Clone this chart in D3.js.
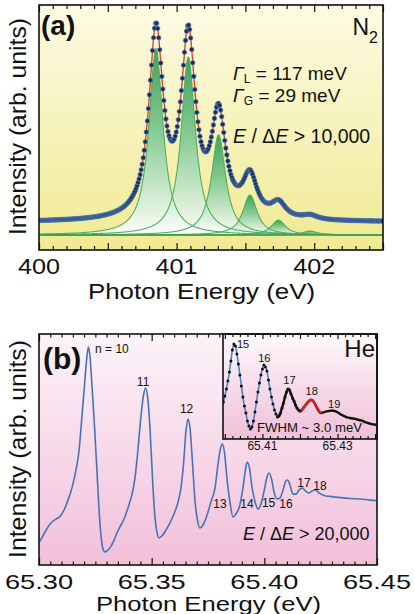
<!DOCTYPE html>
<html><head><meta charset="utf-8">
<script src="https://cdn.jsdelivr.net/npm/d3@7"></script>
<style>
html,body{margin:0;padding:0;background:#fff;}
svg{display:block;font-family:"Liberation Sans",Arial,Helvetica,sans-serif;}
</style></head><body>
<svg id="c" width="415" height="614"></svg>
<script>
// ---------- Panel (a): N2 1s -> pi* (Voigt fit components) ----------
const n2Centers = [400.85, 401.085, 401.305, 401.533, 401.74, 401.97];
const n2Heights = [0.875, 0.835, 0.47, 0.188, 0.07, 0.019];
const n2GammaL = 0.117;   // eV (Lorentzian FWHM, from annotation)
const n2GammaG = 0.029;   // eV (Gaussian FWHM, from annotation)
const n2Background = 0.06;
const n2Step = 0.0075;    // measurement step (eV)
const aTickLabels = [400, 401, 402];

// ---------- Panel (b): He double excitation series ----------
const heEnergy = [65.3004,65.3022,65.3040,65.3058,65.3075,65.3093,65.3111,65.3124,65.3138,65.3151,65.3164,65.3178,65.3191,65.3202,65.3211,65.3219,65.3226,65.3235,65.3246,65.3257,65.3266,65.3275,65.3284,65.3293,65.3306,65.3320,65.3333,65.3346,65.3359,65.3373,65.3386,65.3399,65.3413,65.3426,65.3439,65.3453,65.3464,65.3473,65.3482,65.3493,65.3504,65.3515,65.3524,65.3533,65.3546,65.3564,65.3581,65.3599,65.3617,65.3630,65.3641,65.3652,65.3661,65.3670,65.3681,65.3692,65.3703,65.3714,65.3728,65.3746,65.3763,65.3781,65.3794,65.3805,65.3813,65.3823,65.3834,65.3848,65.3861,65.3874,65.3890,65.3905,65.3916,65.3924,65.3934,65.3945,65.3959,65.3972,65.3985,65.3999,65.4012,65.4021,65.4032,65.4043,65.4056,65.4070,65.4083,65.4096,65.4103,65.4114,65.4127,65.4141,65.4154,65.4169,65.4183,65.4196,65.4212,65.4225,65.4243,65.4265,65.4291,65.4336,65.4380,65.4425,65.4469,65.4498];
const heIntensity = [0.102,0.134,0.165,0.186,0.199,0.210,0.238,0.268,0.307,0.351,
0.411,0.498,0.649,0.779,0.887,0.944,0.905,0.779,0.606,0.411,
0.247,0.130,0.069,0.056,0.065,0.082,0.108,0.139,0.165,0.190,
0.221,0.260,0.307,0.377,0.498,0.649,0.736,0.766,0.727,0.584,
0.368,0.203,0.139,0.117,0.126,0.152,0.182,0.221,0.273,0.333,
0.433,0.576,0.632,0.593,0.446,0.281,0.195,0.160,0.173,0.216,
0.273,0.333,0.433,0.502,0.524,0.489,0.377,0.268,0.208,0.221,
0.255,0.333,0.411,0.446,0.420,0.338,0.273,0.242,0.264,0.320,
0.381,0.398,0.372,0.316,0.286,0.290,0.325,0.364,0.368,0.346,
0.307,0.307,0.325,0.333,0.320,0.312,0.320,0.325,0.312,0.301,
0.297,0.292,0.288,0.286,0.281,0.279];
const heLabelText = ["n = 10","11","12","13","14","15","16","17","18"];
const heLabelE = [65.3249,65.3462,65.3655,65.3803,65.3923,65.4019,65.4096,65.4176,65.4247];
const heLabelI = [0.918,0.775,0.658,0.247,0.247,0.251,0.247,0.338,0.325];
const bTickLabels = ["65.30","65.35","65.40","65.45"];
const bTickValues = [65.30,65.35,65.40,65.45];

// inset (high-resolution scan)
const insetEnergy = [65.3996,65.4000,65.4004,65.4008,65.4012,65.4016,65.4020,65.4024,65.4028,65.4032,65.4036,65.4040,65.4044,65.4048,65.4052,65.4056,65.4060,65.4064,65.4068,65.4072,65.4076,65.4080,65.4084,65.4088,65.4092,65.4096,65.4100,65.4104,65.4108,65.4112,65.4116,65.4120,65.4124,65.4128,65.4132,65.4136,65.4140,65.4144,65.4148,65.4152,65.4156,65.4160,65.4164,65.4168,65.4172,65.4176,65.4180,65.4184,65.4188,65.4192,65.4196,65.4200,65.4204,65.4208,65.4212,65.4216,65.4220,65.4224,65.4228,65.4232,65.4236,65.4240,65.4244,65.4248,65.4252,65.4256,65.4261,65.4269,65.4277,65.4285,65.4293,65.4301,65.4309,65.4317,65.4325,65.4333,65.4341,65.4349,65.4357,65.4365,65.4373,65.4381,65.4389,65.4397,65.4405];
const insetIntensity = [0.349,0.406,0.472,0.547,0.632,0.736,0.840,0.896,0.877,0.802,
0.708,0.604,0.500,0.396,0.311,0.245,0.170,0.123,0.094,0.113,
0.170,0.255,0.349,0.443,0.528,0.604,0.660,0.698,0.679,0.642,
0.557,0.472,0.396,0.330,0.274,0.236,0.208,0.217,0.245,0.292,
0.340,0.396,0.443,0.472,0.462,0.425,0.387,0.358,0.321,0.292,
0.274,0.264,0.269,0.288,0.307,0.325,0.344,0.358,0.368,0.368,
0.354,0.330,0.302,0.274,0.255,0.245,
0.250,0.259,0.264,0.269,0.264,0.250,0.231,0.217,0.205,0.198,0.193,0.189,0.179,0.173,0.160,0.151,0.142,0.137,0.132];
const insetLabelText = ["15","16","17","18","19"];
const insetLabelE = [65.4032,65.4105,65.4172,65.4231,65.4291];
const insetLabelI = [0.858,0.726,0.519,0.415,0.292];
const insetTickLabels = ["65.41","65.43"];
const insetTickValues = [65.41,65.43];
const insetBlueEnd = 36, insetRedStart = 51, insetRedEnd = 65;

// ================= drawing =================
const svg = d3.select("#c");
const defs = svg.append("defs");
function vgrad(id, stops){
  const g = defs.append("linearGradient").attr("id",id).attr("x1",0).attr("y1",0).attr("x2",0).attr("y2",1);
  stops.forEach(s=>g.append("stop").attr("offset",s[0]).attr("stop-color",s[1]));
}
vgrad("bgA",[[0,"#fdfbe4"],[1,"#f0ea92"]]);
vgrad("bgB",[[0,"#fcf3f8"],[1,"#f2bfd9"]]);
vgrad("bgI",[[0,"#fef9fb"],[1,"#efbfd7"]]);
vgrad("greenFill",[[0,"#2a9a4a"],[0.45,"#7cc790"],[1,"#ffffff"]]);

function txt(parent, x, y, str, size, opts={}){
  const t = parent.append("text").attr("x",x).attr("y",y).attr("font-size",size)
    .attr("fill","#111").text(str);
  if (opts.weight) t.attr("font-weight",opts.weight);
  if (opts.anchor) t.attr("text-anchor",opts.anchor);
  if (opts.w){ t.attr("textLength",opts.w).attr("lengthAdjust","spacingAndGlyphs"); }
  return t;
}
function ticksAxis(g, scale, y, values, len, top){
  const ax = (top ? d3.axisTop(scale) : d3.axisBottom(scale)).tickValues(values).tickSize(-len).tickFormat("");
  const a = g.append("g").attr("transform",`translate(0,${y})`).call(ax);
  a.select(".domain").remove();
  a.selectAll("line").attr("stroke","#111").attr("stroke-width",1.2);
}

// ----- Panel (a) -----
const A = {l:39, r:383, t:5, b:250};
const xA = d3.scaleLinear().domain([400,402.5]).range([A.l,A.r]);
const yA = d3.scaleLinear().domain([0,1]).range([235,22]);
svg.append("clipPath").attr("id","clipA").append("rect").attr("x",A.l).attr("y",A.t).attr("width",A.r-A.l).attr("height",A.b-A.t);
svg.append("rect").attr("x",A.l).attr("y",A.t).attr("width",A.r-A.l).attr("height",A.b-A.t).attr("fill","url(#bgA)");
const gA = svg.append("g").attr("clip-path","url(#clipA)");

function pvProfile(dx){
  const fG=n2GammaG, fL=n2GammaL;
  const f = Math.pow(Math.pow(fG,5)+2.69269*Math.pow(fG,4)*fL+2.42843*Math.pow(fG,3)*fL*fL+4.47163*fG*fG*Math.pow(fL,3)+0.07842*fG*Math.pow(fL,4)+Math.pow(fL,5),0.2);
  const r = fL/f;
  const eta = 1.36603*r-0.47719*r*r+0.11116*r*r*r;
  const u = dx/f;
  return eta/(1+4*u*u) + (1-eta)*Math.exp(-4*Math.LN2*u*u);
}
const grid = d3.range(400, 402.5001, 0.0025);
const comps = n2Centers.map((c,i)=>grid.map(e=>[e, n2Heights[i]*pvProfile(e-c)]));
const fitVal = e => n2Background + d3.sum(n2Centers, (c,i)=>n2Heights[i]*pvProfile(e-c));
const areaA = d3.area().x(d=>xA(d[0])).y0(yA(0)).y1(d=>yA(d[1]));
const lineA = d3.line().x(d=>xA(d[0])).y(d=>yA(d[1]));
comps.forEach(c=>{
  gA.append("path").datum(c).attr("d",areaA).attr("fill","url(#greenFill)").attr("fill-opacity",0.9);
});
comps.forEach(c=>{
  gA.append("path").datum(c).attr("d",lineA).attr("fill","none").attr("stroke","#4fb060").attr("stroke-width",1.1);
});
gA.append("line").attr("x1",A.l).attr("x2",A.r).attr("y1",yA(0)).attr("y2",yA(0)).attr("stroke","#3d9b4c").attr("stroke-width",1.3);
gA.append("path").datum(grid.map(e=>[e,fitVal(e)])).attr("d",lineA).attr("fill","none").attr("stroke","#e2342b").attr("stroke-width",1.3);
const dotsA = d3.range(400, 402.5001, n2Step).map(e=>[e,fitVal(e)]);
gA.selectAll("circle.d").data(dotsA).join("circle").attr("class","d")
  .attr("cx",d=>xA(d[0])).attr("cy",d=>yA(d[1])).attr("r",2.3)
  .attr("fill","#1e2d57").attr("stroke","#5d8fc9").attr("stroke-width",0.6);

ticksAxis(svg, xA, A.b, d3.range(400,402.51,0.1).filter(v=>Math.abs(v*2-Math.round(v*2))>1e-6), 4, false);
ticksAxis(svg, xA, A.b, [400,400.5,401,401.5,402,402.5], 7, false);
ticksAxis(svg, xA, A.t, d3.range(400,402.51,0.1).filter(v=>Math.abs(v*2-Math.round(v*2))>1e-6), 4, true);
ticksAxis(svg, xA, A.t, [400,400.5,401,401.5,402,402.5], 7, true);
svg.append("rect").attr("x",A.l).attr("y",A.t).attr("width",A.r-A.l).attr("height",A.b-A.t).attr("fill","none").attr("stroke","#111").attr("stroke-width",1.6);

aTickLabels.forEach(v=>txt(svg, xA(v)-21, 274, String(v), 22, {w:42}));
txt(svg, 88, 299, "Photon Energy (eV)", 22, {w:227});
txt(svg, 0, 0, "Intensity (arb. units)", 24, {w:217}).attr("transform","translate(26,235) rotate(-90)");
txt(svg, 41, 35, "(a)", 28, {weight:"bold"});
const n2t = txt(svg, 378, 35, "N", 23, {anchor:"end"});
n2t.append("tspan").attr("font-size",16).attr("dy",8).text("2");
function gammaRow(y, sub, rest){
  const t = svg.append("text").attr("x",233).attr("y",y).attr("font-size",19).attr("fill","#111");
  t.append("tspan").attr("font-style","italic").text("Γ");
  t.append("tspan").attr("font-size",12).attr("dy",2.5).text(sub);
  t.append("tspan").attr("dy",-2.5).text(rest);
}
gammaRow(80, "L", " = 117 meV");
gammaRow(102, "G", " = 29 meV");
function resRow(x, y, size, num){
  const t = svg.append("text").attr("x",x).attr("y",y).attr("font-size",size).attr("fill","#111");
  t.append("tspan").attr("font-style","italic").text("E");
  t.append("tspan").text(" / Δ");
  t.append("tspan").attr("font-style","italic").text("E");
  t.append("tspan").text(" > " + num);
}
resRow(233, 143, 19.5, "10,000");

// ----- Panel (b) -----
const B = {l:39, r:377, t:334, b:565};
const xB = d3.scaleLinear().domain([65.30,65.45]).range([B.l,B.r]);
const yB = d3.scaleLinear().domain([0,1]).range([B.b,B.t]);
svg.append("clipPath").attr("id","clipB").append("rect").attr("x",B.l).attr("y",B.t).attr("width",B.r-B.l).attr("height",B.b-B.t);
svg.append("rect").attr("x",B.l).attr("y",B.t).attr("width",B.r-B.l).attr("height",B.b-B.t).attr("fill","url(#bgB)");
const gB = svg.append("g").attr("clip-path","url(#clipB)");
const heData = d3.zip(heEnergy, heIntensity);
gB.append("path").datum(heData).attr("d", d3.line().x(d=>xB(d[0])).y(d=>yB(d[1])).curve(d3.curveMonotoneX))
  .attr("fill","none").attr("stroke","#4474b6").attr("stroke-width",1.6);
const minorB = d3.range(0,31).map(i=>65.30+i*0.005).filter((v,i)=>i%10!==0);
ticksAxis(svg, xB, B.b, minorB, 3.5, false);
ticksAxis(svg, xB, B.b, bTickValues, 7, false);
ticksAxis(svg, xB, B.t, minorB, 3.5, true);
ticksAxis(svg, xB, B.t, bTickValues, 7, true);
heLabelText.forEach((s,i)=>{
  txt(svg, xB(heLabelE[i]), yB(heLabelI[i]), s, 12, {anchor: i===0 ? "start" : "middle"});
});
resRow(243, 540, 18, "20,000");

// inset
const I = {l:223, r:377, t:334, b:439};
const xI = d3.scaleLinear().domain([65.3995,65.4405]).range([I.l,I.r]);
const yI = d3.scaleLinear().domain([0,1]).range([439,333]);
svg.append("clipPath").attr("id","clipI").append("rect").attr("x",I.l).attr("y",I.t).attr("width",I.r-I.l).attr("height",I.b-I.t);
svg.append("rect").attr("x",I.l).attr("y",I.t).attr("width",I.r-I.l).attr("height",I.b-I.t).attr("fill","url(#bgI)");
const gI = svg.append("g").attr("clip-path","url(#clipI)");
const insetData = d3.zip(insetEnergy, insetIntensity);
const lineI = d3.line().x(d=>xI(d[0])).y(d=>yI(d[1])).curve(d3.curveMonotoneX);
gI.append("path").datum(insetData.slice(0, insetBlueEnd+1)).attr("d",lineI).attr("fill","none").attr("stroke","#4a82c4").attr("stroke-width",1.6);
gI.append("path").datum(insetData.slice(insetBlueEnd)).attr("d",lineI).attr("fill","none").attr("stroke","#111").attr("stroke-width",2.4);
gI.append("path").datum(insetData.slice(insetRedStart, insetRedEnd+1)).attr("d",lineI).attr("fill","none").attr("stroke","#d42020").attr("stroke-width",2.6);
gI.selectAll("circle").data(insetData.slice(0, insetRedStart+1)).join("circle")
  .attr("cx",d=>xI(d[0])).attr("cy",d=>yI(d[1])).attr("r",1.5).attr("fill","#111");
const minorI = d3.range(0,21).map(i=>65.400+i*0.002).filter((v,i)=>i%5!==0);
ticksAxis(svg, xI, I.b, minorI, 3, false);
ticksAxis(svg, xI, I.b, [65.40,65.41,65.42,65.43,65.44], 5, false);
ticksAxis(svg, xI, I.t, minorI, 3, true);
ticksAxis(svg, xI, I.t, [65.40,65.41,65.42,65.43,65.44], 5, true);
svg.append("rect").attr("x",I.l).attr("y",I.t).attr("width",I.r-I.l).attr("height",I.b-I.t).attr("fill","none").attr("stroke","#111").attr("stroke-width",1.6);
insetLabelText.forEach((s,i)=>{
  txt(svg, xI(insetLabelE[i]), yI(insetLabelI[i]), s, 11, {anchor: i===0 ? "start" : "middle"});
});
txt(svg, 375, 357, "He", 24, {anchor:"end"});
txt(svg, 257, 432, "FWHM ~ 3.0 meV", 12, {w:105});
insetTickValues.forEach((v,i)=>txt(svg, xI(v), 450, insetTickLabels[i], 12, {anchor:"middle"}));

svg.append("rect").attr("x",B.l).attr("y",B.t).attr("width",B.r-B.l).attr("height",B.b-B.t).attr("fill","none").attr("stroke","#111").attr("stroke-width",1.6);
bTickValues.forEach((v,i)=>txt(svg, xB(v)-34, 589, bTickLabels[i], 21, {w:68}));
txt(svg, 96, 611, "Photon Energy (eV)", 21, {w:225});
txt(svg, 0, 0, "Intensity (arb. units)", 24, {w:218}).attr("transform","translate(26,558) rotate(-90)");
txt(svg, 43, 369, "(b)", 30, {weight:"bold"});
</script>
</body></html>
